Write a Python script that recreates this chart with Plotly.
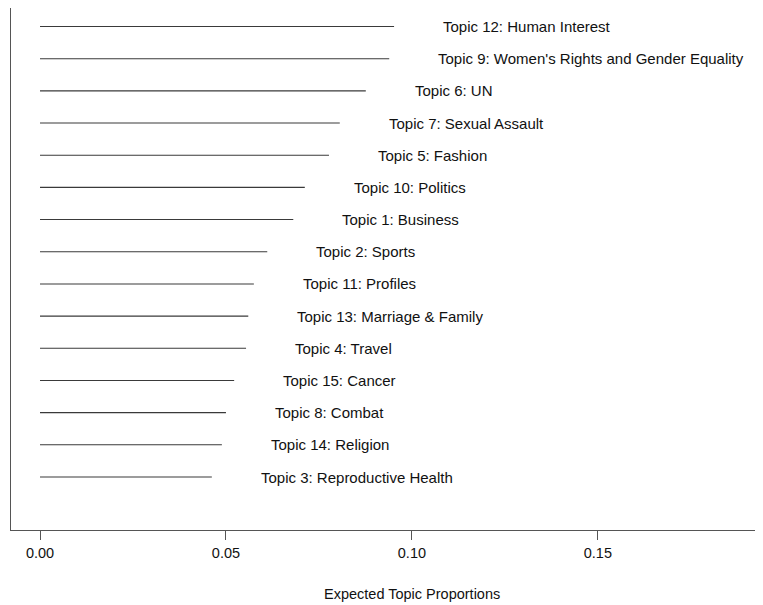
import plotly.graph_objects as go

topics = [
    "Topic 12: Human Interest",
    "Topic 9: Women's Rights and Gender Equality",
    "Topic 6: UN",
    "Topic 7: Sexual Assault",
    "Topic 5: Fashion",
    "Topic 10: Politics",
    "Topic 1: Business",
    "Topic 2: Sports",
    "Topic 11: Profiles",
    "Topic 13: Marriage & Family",
    "Topic 4: Travel",
    "Topic 15: Cancer",
    "Topic 8: Combat",
    "Topic 14: Religion",
    "Topic 3: Reproductive Health",
]
proportions = [0.0952, 0.0939, 0.0876, 0.0806, 0.0777, 0.0712, 0.0681, 0.0611,
               0.0575, 0.0560, 0.0554, 0.0522, 0.0500, 0.0489, 0.0462]
tick_vals = [0.0, 0.05, 0.10, 0.15]
tick_text = ["0.00", "0.05", "0.10", "0.15"]

n = len(topics)
ranks = [n - i for i in range(n)]

xs, ys = [], []
for v, r in zip(proportions, ranks):
    xs += [0, v, None]
    ys += [r, r, None]

fig = go.Figure()
fig.add_trace(go.Scatter(x=xs, y=ys, mode="lines",
                         line=dict(color="#3a3a3a", width=1.1),
                         hoverinfo="skip", showlegend=False))

FONT = "Liberation Sans, Arial, sans-serif"
for t, v, r in zip(topics, proportions, ranks):
    fig.add_annotation(x=v + 0.0126, y=r, text=t, showarrow=False,
                       xanchor="left", yanchor="middle",
                       font=dict(family=FONT, size=15, color="#111"))

# page is offset by the 8px default body margin
W, H = 755, 597
plot_left, plot_top, plot_bottom = 3, 0, 522
plot_h = plot_bottom - plot_top

fig.add_annotation(x=0.10, xref="x", y=(plot_bottom - (594 - 8)) / plot_h, yref="paper",
                   text="Expected Topic Proportions", showarrow=False,
                   xanchor="center", yanchor="middle",
                   font=dict(family=FONT, size=14.5, color="#111"))

fig.update_layout(
    width=W, height=H,
    margin=dict(l=plot_left, r=0, t=plot_top, b=H - plot_bottom),
    plot_bgcolor="white", paper_bgcolor="white",
    xaxis=dict(range=[-0.0078, 0.1944], tickvals=tick_vals, ticktext=tick_text,
               showgrid=False, zeroline=False, showline=True, mirror=True,
               linecolor="#555", linewidth=1.3, ticks="outside", ticklen=9,
               tickcolor="#555", tickwidth=1,
               tickfont=dict(family=FONT, size=14.5, color="#111")),
    yaxis=dict(range=[-0.647, 15.575], showgrid=False, zeroline=False,
               showline=True, mirror=False, linecolor="#555", linewidth=1.3,
               showticklabels=False, ticks=""),
)

fig.write_html("out.html")
